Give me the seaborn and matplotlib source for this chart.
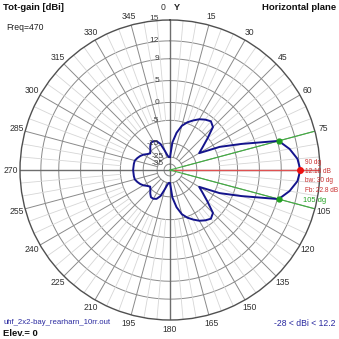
import numpy as np
import pandas as pd
import matplotlib
matplotlib.use("Agg")
import matplotlib.pyplot as plt
import seaborn as sns

plt.rcParams['font.family'] = ['Liberation Sans', 'DejaVu Sans']

# ---- data (bearing in degrees, total gain in dBi) ----
bearing_deg = [0, 5, 10, 15, 20, 25, 30, 35, 40, 45, 50, 55, 60, 65, 70, 75, 80, 85,
               90, 95, 100, 105, 110, 115, 120, 125, 130, 135, 140, 145, 150, 155, 160,
               165, 170, 175, 180, 185, 190, 195, 200, 205, 210, 215, 220, 225, 230,
               235, 240, 245, 250, 255, 260, 265, 270, 275, 280, 285, 290, 295, 300,
               305, 310, 315, 320, 325, 330, 335, 340, 345, 350, 355, 360]
gain_dbi = [-25.0, -14.6, -10.2, -6.7, -4.7, -3.6, -2.5, -1.7, -1.1, -1.9, -5.4, -9.3,
            -12.0, -3.6, 2.0, 9.2, 10.7, 11.8, 12.18, 11.8, 10.7, 9.2, 2.0, -3.6, -12.0,
            -9.3, -5.4, -1.9, -1.1, -1.7, -2.5, -3.6, -4.7, -6.7, -10.2, -14.6, -25.0,
            -25.0, -23.6, -20.0, -14.6, -12.8, -12.2, -12.2, -13.3, -14.6, -15.7, -14.6,
            -13.3, -12.3, -11.5, -10.8, -10.7, -10.7, -10.6, -10.7, -10.7, -10.8, -11.5,
            -12.3, -13.3, -14.6, -15.7, -14.6, -13.3, -12.2, -12.2, -12.8, -14.6, -20.0,
            -23.6, -25.0, -25.0]

ring_levels = [15, 12, 9, 5, 0, -5, -15, -25, -35]
ring_labels = ["15", "12", "9", "5", "0", "-5", "-15", "-25", "-35"]
angle_labels = [15, 30, 45, 60, 75, 105, 120, 135, 150, 165, 180, 195, 210, 225,
                240, 255, 270, 285, 300, 315, 330, 345]
max_dir_deg = 90
max_gain = 12.18
bw_low_deg = 75
bw_high_deg = 105
bw_gain = 9.2

info_lines = ["90 dg", "12.18 dB", "bw: 30 dg", "Fb: 22.8 dB"]

# ---- radial scale calibration (dB -> relative radius) ----
SCALE_DB = np.array([-45, -35, -25, -15, -5, 0, 5, 9, 12, 15], dtype=float)
SCALE_R = np.array([0, 6, 13, 27, 50, 68, 90, 112, 130, 151], dtype=float) / 151.0

def fwd(v):
    return np.interp(np.asarray(v, dtype=float), SCALE_DB, SCALE_R)

def inv(v):
    return np.interp(np.asarray(v, dtype=float), SCALE_R, SCALE_DB)

W = H = 339
fig = plt.figure(figsize=(W / 100, H / 100), dpi=100)
fig.patch.set_facecolor("white")

cx, cy, R = 170, 170, 150
ax = fig.add_axes([(cx - R) / W, 1 - (cy + R) / H, 2 * R / W, 2 * R / H],
                  projection="polar")
ax.set_theta_zero_location("N")
ax.set_theta_direction(-1)
ax.set_rscale("function", functions=(fwd, inv))

df = pd.DataFrame({"theta": np.deg2rad(bearing_deg), "gain": gain_dbi})

# rings
circ = np.linspace(0, 2 * np.pi, 361)
for lv in ring_levels[1:]:
    ax.plot(circ, np.full_like(circ, lv), color="#8a8a8a", lw=0.7, zorder=1)

# spokes
for a in range(0, 360, 5):
    t = np.deg2rad(a)
    if a % 90 == 0:
        continue
    if a % 15 == 0:
        ax.plot([t, t], [-25, 15], color="#8a8a8a", lw=0.7, zorder=1)
    else:
        ax.plot([t, t], [-5, 15], color="#d6d6d6", lw=0.6, zorder=1)
for a in (0, 90):
    t1, t2 = np.deg2rad(a), np.deg2rad(a + 180)
    ax.plot([t1, t1], [-45, 15], color="#6e6e6e", lw=1.0, zorder=1)
    ax.plot([t2, t2], [-45, 15], color="#6e6e6e", lw=1.0, zorder=1)

# direction markers
ax.plot([np.deg2rad(max_dir_deg)] * 2, [-45, 15], color="#e05050", lw=0.9, zorder=2)
for a in (bw_low_deg, bw_high_deg):
    ax.plot([np.deg2rad(a)] * 2, [-45, 15], color="#40b040", lw=0.8, zorder=2)

sns.lineplot(data=df, x="theta", y="gain", ax=ax, sort=False, estimator=None,
             color="#14148c", linewidth=1.4, zorder=3)

ax.plot([np.deg2rad(bw_low_deg), np.deg2rad(bw_high_deg)], [bw_gain, bw_gain],
        ls="none", marker="o", ms=3.5, color="#20a020", zorder=4)
ax.plot([np.deg2rad(max_dir_deg)], [max_gain], ls="none", marker="o", ms=4,
        color="#ee1111", zorder=4)

ax.set_rlim(-45, 15)
ax.yaxis.grid(False)
ax.xaxis.grid(False)
ax.set_yticklabels([])
ax.set_xticks([])
ax.tick_params(axis="y", length=0)
ax.set_xlabel("")
ax.set_ylabel("")
ax.spines["polar"].set_color("#505050")
ax.spines["polar"].set_linewidth(1.0)
ax.set_facecolor("white")

def fx(x):
    return x / W

def fy(y):
    return 1 - y / H

fs = 6.2
# angular labels
for a in angle_labels:
    t = np.deg2rad(a)
    x = cx + 159 * np.sin(t)
    y = cy - 159 * np.cos(t)
    fig.text(fx(x), fy(y), str(a), ha="center", va="center", fontsize=fs,
             color="#303030")
fig.text(fx(163), fy(8), "0", ha="center", va="center", fontsize=fs, color="#303030")
fig.text(fx(177), fy(8), "Y", ha="center", va="center", fontsize=fs + 0.5,
         color="#202020", fontweight="bold")

# radial labels
for lv, lb in zip(ring_levels, ring_labels):
    rpx = float(fwd(lv)) * 151
    xr = 164 if lv <= -25 else 159
    fig.text(fx(xr), fy(cy - rpx), lb, ha="right", va="center", fontsize=fs - 0.2,
             color="#404040")

# titles
fig.text(fx(3), fy(8), "Tot-gain [dBi]", ha="left", va="center", fontsize=fs + 0.6,
         fontweight="bold", color="#101010")
fig.text(fx(6), fy(28), "Freq=470", ha="left", va="center", fontsize=fs,
         color="#202020")
fig.text(fx(336), fy(8), "Horizontal plane", ha="right", va="center",
         fontsize=fs + 0.6, fontweight="bold", color="#101010")
fig.text(fx(3), fy(323), "uhf_2x2-bay_rearharn_10rr.out", ha="left", va="center",
         fontsize=5.6, color="#2a2aa0")
fig.text(fx(3), fy(334), "Elev.= 0", ha="left", va="center", fontsize=fs + 0.6,
         fontweight="bold", color="#101010")
fig.text(fx(335), fy(324), "-28 < dBi < 12.2", ha="right", va="center", fontsize=fs,
         color="#2a2aa0")

for i, s in enumerate(info_lines):
    fig.text(fx(305), fy(162 + i * 9.5), s, ha="left", va="center", fontsize=4.7,
             color="#c83030")
fig.text(fx(303), fy(201), "105 dg", ha="left", va="center", fontsize=5.4,
         color="#20a020")

fig.savefig("out.png", dpi=100, facecolor="white")
